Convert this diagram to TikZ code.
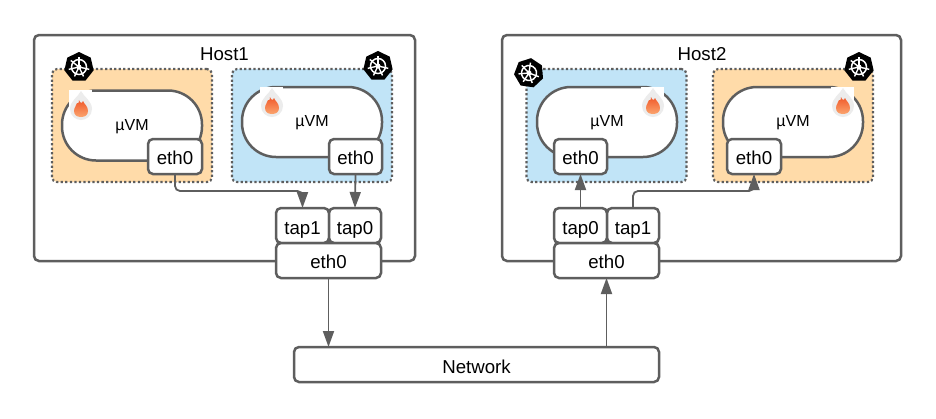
\documentclass[tikz,border=0pt]{standalone}
\usepackage{fontspec}
\setmainfont{Liberation Sans}
\usetikzlibrary{arrows.meta,shapes.geometric}
\newdimen\px
\px=0.75pt
\definecolor{linegray}{HTML}{5E5E5E}
\definecolor{vmorange}{HTML}{FFDBA9}
\definecolor{vmblue}{HTML}{C1E4F7}
\definecolor{flametop}{HTML}{F0592A}
\definecolor{flamelow}{HTML}{FBA46E}
\tikzset{
    hostbox/.style={draw=linegray, line width=2.5\px, rounded corners=5\px, fill=white, inner sep=0pt, outer sep=0pt},
    podbox/.style={draw=linegray, line width=2.2\px, dash pattern=on 1.7pt off 1.7pt, rounded corners=5\px, inner sep=0pt, outer sep=0pt, minimum width=160\px, minimum height=113\px},
    vmbox/.style={draw=linegray, line width=2.5\px, fill=white, rounded corners=34\px, inner sep=0pt, outer sep=0pt, minimum width=140\px, minimum height=70\px, text height=7pt, text depth=0pt, font=\fontsize{12}{14}\selectfont},
    nicbox/.style={draw=linegray, line width=2.5\px, fill=white, rounded corners=5\px, inner sep=0pt, outer sep=0pt, minimum width=53\px, minimum height=35\px, text height=12pt, text depth=0pt, font=\fontsize{14}{16}\selectfont},
    link/.style={draw=linegray, line width=1.8\px, rounded corners=5\px, -{Triangle[length=12pt,width=8.25pt]}},
    kubeicon/.pic={
        \node[regular polygon, regular polygon sides=7, fill=black, inner sep=0pt, minimum size=30\px, transform shape] (-hept) at (0,0) {};
        \draw[white, line width=1.5\px] (0,0) circle (7.5\px);
        \foreach \a in {0,51.43,...,308} {
            \draw[white, line width=1.4\px] (0,0) -- (\a+90:10.5\px);
        }
        \fill[white] (0,0) circle (2.5\px);
    },
    flameicon/.pic={
        \fill[white] (-12,-16) rectangle (11,2);
        \fill[gray!15] (0,-15) .. controls (3,-9) and (11,-5) .. (11,3) .. controls (11,10) and (5,14) .. (0,14) .. controls (-5,14) and (-11,10) .. (-11,3) .. controls (-11,-5) and (-3,-9) .. (0,-15);
        \shade[top color=flametop, bottom color=flamelow] (-2,-6) .. controls (-1,-3) and (1,-2) .. (2,-5) .. controls (3,-2) and (7,0) .. (7,5) .. controls (7,9) and (4,11) .. (0,11) .. controls (-4,11) and (-7,9) .. (-7,5) .. controls (-7,1) and (-4,-1) .. (-4,-3) .. controls (-3,-2) and (-2,-3) .. (-2,-6);
    }
}
\begin{document}
\begin{tikzpicture}[x=0.75pt, y=-0.75pt]
    \useasboundingbox (0,0) rectangle (936,418);

    % hosts
    \node[hostbox, minimum width=381\px, minimum height=226\px] (hostA) at (224.5,148) {};
    \node[hostbox, minimum width=399\px, minimum height=226\px] (hostB) at (701.5,148) {};
    \node[font=\fontsize{14}{16}\selectfont] (hostAlabel) at (224.5,54) {Host1};
    \node[font=\fontsize{14}{16}\selectfont] (hostBlabel) at (702,54) {Host2};

    % pods
    \node[podbox, fill=vmorange] (podA) at (132,125.5) {};
    \node[podbox, fill=vmblue] (podB) at (312,125.5) {};
    \node[podbox, fill=vmblue] (podC) at (606.5,125.5) {};
    \node[podbox, fill=vmorange] (podD) at (793,125.5) {};

    % micro vms
    \node[vmbox] (vmA) at (132,125.5) {µVM};
    \node[vmbox] (vmB) at (312,122) {µVM};
    \node[vmbox] (vmC) at (607,122) {µVM};
    \node[vmbox] (vmD) at (793,122) {µVM};

    \node[nicbox, minimum width=54\px] (ethA) at (175,156.5) {eth0};
    \node[nicbox] (ethB) at (355.5,156.5) {eth0};
    \node[nicbox, minimum width=53\px] (ethC) at (580.5,156.5) {eth0};
    \node[nicbox, minimum width=54\px] (ethD) at (754,156.5) {eth0};

    % tap devices
    \node[nicbox, text height=14pt] (tapOne) at (302.5,225.5) {tap1};
    \node[nicbox, text height=14pt, minimum width=52\px] (tapZero) at (355,225.5) {tap0};
    \node[nicbox, text height=14pt] (tapZeroB) at (580.5,225.5) {tap0};
    \node[nicbox, text height=14pt, minimum width=52\px] (tapOneB) at (633,225.5) {tap1};

    \node[nicbox, minimum width=105\px] (hostEthA) at (328.5,260.5) {eth0};
    \node[nicbox, minimum width=105\px] (hostEthB) at (606.5,260.5) {eth0};

    \node[nicbox, text height=13pt, minimum width=365\px] (network) at (476.5,364.5) {Network};

    % links
    \draw[link] (ethA.south) -- ++(0,17) -| (tapOne.north);
    \draw[link] (ethB.south) -- (tapZero.north);
    \draw[link] (tapZeroB.north) -- (ethC.south);
    \draw[link] (tapOneB.north) -- ++(0,-17) -| (ethD.south);
    \draw[link] (hostEthA.south) -- (hostEthA.south |- network.north);
    \draw[link] (hostEthB.south |- network.north) -- (hostEthB.south);

    % icons
    \pic (kubeA) at (79,67) {kubeicon};
    \pic (kubeB) at (378,66) {kubeicon};
    \pic[rotate=-8] (kubeC) at (529,73) {kubeicon};
    \pic (kubeD) at (859,67) {kubeicon};

    \pic (flameA) at (81,106) {flameicon};
    \pic (flameB) at (272,103) {flameicon};
    \pic (flameC) at (653,103) {flameicon};
    \pic (flameD) at (843,103) {flameicon};
\end{tikzpicture}
\end{document}
